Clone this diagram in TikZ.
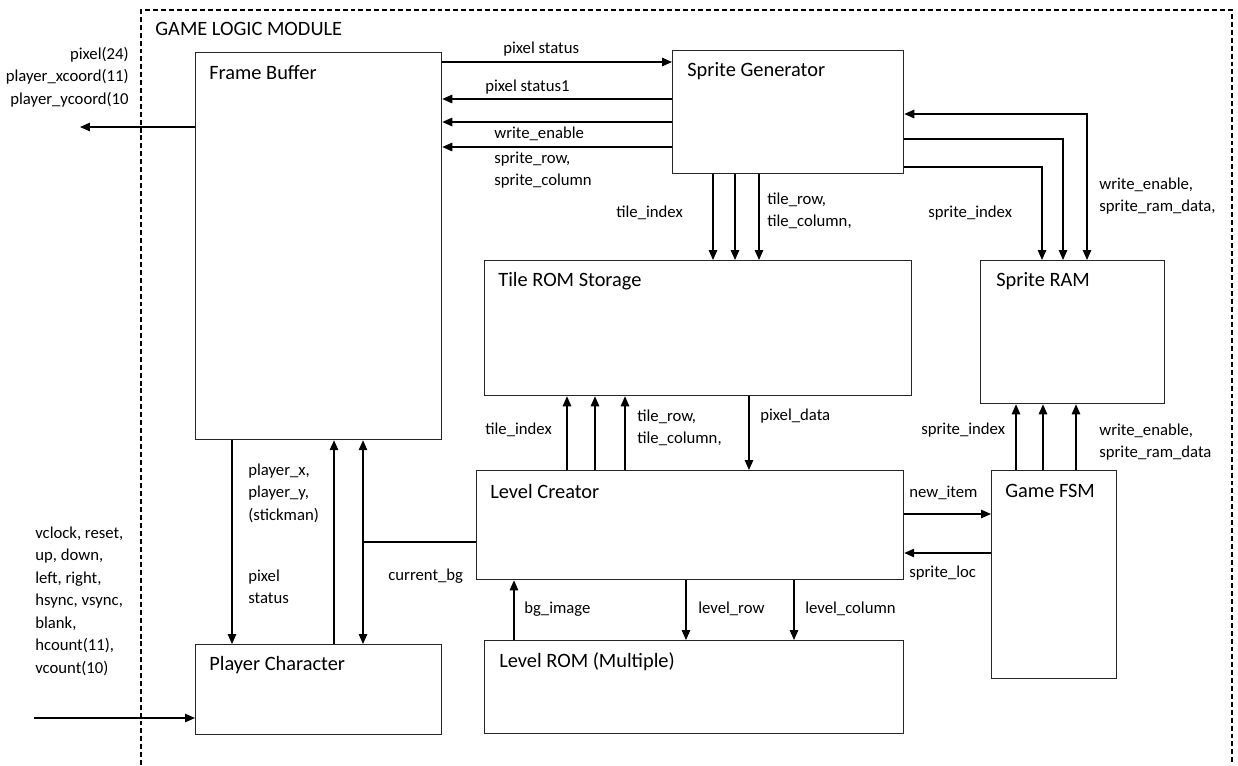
\documentclass[tikz,border=0pt]{standalone}
\usepackage{fontspec}
\setmainfont{Carlito}
\usetikzlibrary{arrows.meta, positioning, calc}
\tikzset{
    blockbox/.style={
        rectangle, draw=black!85, line width=0.75pt, fill=white,
        anchor=north west, inner sep=0pt
    },
    boxtitle/.style={anchor=west, inner sep=0pt, font=\fontsize{11.6}{13}\selectfont},
    lbl/.style={anchor=west, inner sep=0pt, align=left, font=\fontsize{9.5}{12.8}\selectfont},
    sig/.style={-{Triangle[length=2mm, width=1.7mm]}, line width=0.7pt},
    sigboth/.style={{Triangle[length=2mm, width=1.7mm]}-{Triangle[length=2mm, width=1.7mm]}, line width=0.7pt},
}

\begin{document}
\begin{tikzpicture}[x=0.02cm, y=-0.02cm]
                \useasboundingbox (0,0) rectangle (1238,765);

                % Module frame
                \draw[line width=0.6pt, dash pattern=on 2.8pt off 1.7pt] (141,765) -- (141,10) -- (1232,10) -- (1232,765);
                \node[boxtitle] (modt) at (155,29) {GAME LOGIC MODULE};

                % Blocks
                \node[blockbox, minimum width=4.92cm, minimum height=7.74cm] (fb) at (195,52) {};
                \node[blockbox, minimum width=4.62cm, minimum height=2.46cm] (sg) at (672,50) {};
                \node[blockbox, minimum width=8.54cm, minimum height=2.70cm] (trom) at (484,260) {};
                \node[blockbox, minimum width=3.68cm, minimum height=2.86cm] (sram) at (980,260) {};
                \node[blockbox, minimum width=8.54cm, minimum height=2.18cm] (lc) at (476,470) {};
                \node[blockbox, minimum width=2.50cm, minimum height=4.16cm] (gfsm) at (991,470) {};
                \node[blockbox, minimum width=8.38cm, minimum height=1.86cm] (lrom) at (484,640) {};
                \node[blockbox, minimum width=4.92cm, minimum height=1.80cm] (pc) at (195,644) {};

                % Block titles
                \node[boxtitle] (fbt) at ([shift={(14,21)}]fb.north west) {Frame Buffer};
                \node[boxtitle] (sgt) at ([shift={(15,21)}]sg.north west) {Sprite Generator};
                \node[boxtitle] (tromt) at ([shift={(14,21)}]trom.north west) {Tile ROM Storage};
                \node[boxtitle] (sramt) at ([shift={(16,21)}]sram.north west) {Sprite RAM};
                \node[boxtitle] (lct) at ([shift={(14,21)}]lc.north west) {Level Creator};
                \node[boxtitle] (gfsmt) at ([shift={(14,21)}]gfsm.north west) {Game FSM};
                \node[boxtitle] (lromt) at ([shift={(15,22)}]lrom.north west) {Level ROM (Multiple)};
                \node[boxtitle] (pct) at ([shift={(14,21)}]pc.north west) {Player Character};

                % Frame Buffer <-> Sprite Generator
                \draw[sig] (fb.east |- 0,62) -- (sg.west |- 0,62);
                \foreach \yy in {99,122,147}
                    \draw[sig] (sg.west |- 0,\yy) -- (fb.east |- 0,\yy);
                \node[lbl] (l1) at (503,49) {pixel status};
                \node[lbl] (l2) at (485,87) {pixel status1};
                \node[lbl] (l3) at (494,134) {write\_enable};
                \node[lbl] (l4) at (494,170) {sprite\_row,\\sprite\_column};

                % Frame Buffer outputs
                \coordinate (pixout) at (80,127);
                \draw[sig] (fb.west |- 0,127) -- (pixout);
                \node[lbl, anchor=east, align=right] (l5) at (129,77) {pixel(24)\\player\_xcoord(11)\\player\_ycoord(10};

                % Sprite Generator -> Tile ROM
                \foreach \xx in {713,735,759}
                    \draw[sig] (sg.south -| \xx,0) -- (trom.north -| \xx,0);
                \node[lbl] (l6) at (616,213) {tile\_index};
                \node[lbl] (l7) at (767,211) {tile\_row,\\tile\_column,};

                % Sprite Generator <-> Sprite RAM
                \draw[sigboth] (sg.east |- 0,114) -| (sram.north -| 1087,0);
                \draw[sig] (sg.east |- 0,139) -| (sram.north -| 1063,0);
                \draw[sig] (sg.east |- 0,167) -| (sram.north -| 1042,0);
                \node[lbl] (l8) at (928,213) {sprite\_index};
                \node[lbl] (l9) at (1099,196) {write\_enable,\\sprite\_ram\_data,};

                % Level Creator <-> Tile ROM
                \foreach \xx in {567,595,625}
                    \draw[sig] (lc.north -| \xx,0) -- (trom.south -| \xx,0);
                \draw[sig] (trom.south -| 749,0) -- (lc.north -| 749,0);
                \node[lbl] (l10) at (485,430) {tile\_index};
                \node[lbl] (l11) at (637,428) {tile\_row,\\tile\_column,};
                \node[lbl] (l12) at (760,416) {pixel\_data};

                % Game FSM -> Sprite RAM
                \foreach \xx in {1016,1043,1076}
                    \draw[sig] (gfsm.north -| \xx,0) -- (sram.south -| \xx,0);
                \node[lbl] (l13) at (921,430) {sprite\_index};
                \node[lbl] (l14) at (1099,442) {write\_enable,\\sprite\_ram\_data};

                % Level Creator <-> Game FSM
                \draw[sig] (lc.east |- 0,514) -- (gfsm.west |- 0,514);
                \draw[sig] (gfsm.west |- 0,553) -- (lc.east |- 0,553);
                \node[lbl] (l15) at (909,493) {new\_item};
                \node[lbl] (l16) at (909,573) {sprite\_loc};

                % Level ROM <-> Level Creator
                \draw[sig] (lrom.north -| 514,0) -- (lc.south -| 514,0);
                \draw[sig] (lc.south -| 686,0) -- (lrom.north -| 686,0);
                \draw[sig] (lc.south -| 794,0) -- (lrom.north -| 794,0);
                \node[lbl] (l17) at (524,609) {bg\_image};
                \node[lbl] (l18) at (698,609) {level\_row};
                \node[lbl] (l19) at (805,609) {level\_column};

                % Frame Buffer <-> Player Character
                \draw[sig] (fb.south -| 232,0) -- (pc.north -| 232,0);
                \draw[sig] (pc.north -| 334,0) -- (fb.south -| 334,0);
                \draw[sigboth] (fb.south -| 363,0) -- (pc.north -| 363,0);
                \coordinate (bgjoin) at (363,542);
                \draw[line width=0.7pt] (lc.west |- bgjoin) -- (bgjoin);
                \node[lbl] (l20) at (248,493) {player\_x,\\player\_y,\\(stickman)};
                \node[lbl] (l21) at (248,587) {pixel\\status};
                \node[lbl] (l22) at (388,576) {current\_bg};

                % Inputs
                \coordinate (inp) at (34,718);
                \draw[sig] (inp) -- (pc.west |- inp);
                \node[lbl] (l23) at (35,601) {vclock, reset,\\up, down,\\left, right,\\hsync, vsync,\\blank,\\hcount(11),\\vcount(10)};
            \end{tikzpicture}
\end{document}
